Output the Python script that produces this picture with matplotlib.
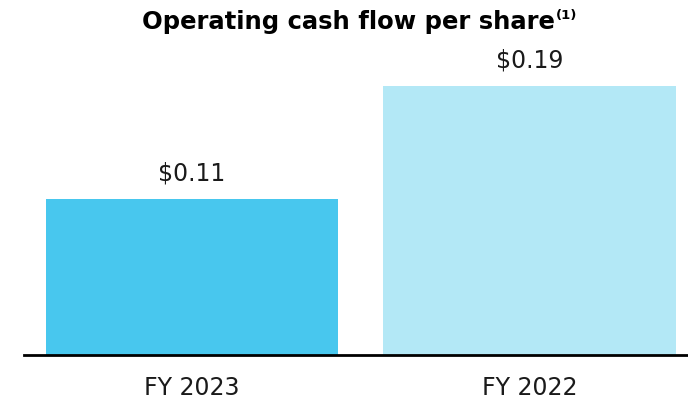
import matplotlib
matplotlib.use('Agg')
import matplotlib.pyplot as plt

# Data
categories = ['FY 2023', 'FY 2022']
values = [0.11, 0.19]
labels = ['$0.11', '$0.19']
colors = ['#48C7EE', '#B3E8F6']

plt.rcParams['font.family'] = ['DejaVu Sans']
text_color = '#1a1a1a'

fig = plt.figure(figsize=(6.88, 4.04), dpi=100)
ax = fig.add_axes([24 / 688, 49 / 404, 664 / 688, 315 / 404])

x = range(len(categories))
ax.bar(x, values, width=0.868, color=colors, zorder=2)
ax.set_xlim(-0.498, 1.47)
ax.set_ylim(0, 0.19 * 315 / 269)

for xi, v, lab in zip(x, values, labels):
    ax.annotate(lab, (xi, v), xytext=(0, 10), textcoords='offset points',
                ha='center', va='bottom', fontsize=17, color=text_color)

ax.set_xticks(list(x))
ax.set_xticklabels(categories, fontsize=17, color=text_color)
ax.tick_params(axis='x', length=0, pad=15)
ax.set_yticks([])
for s in ['top', 'right', 'left']:
    ax.spines[s].set_visible(False)
ax.spines['bottom'].set_linewidth(2)
ax.spines['bottom'].set_color('#000000')

# Title with superscript note marker
t = fig.text(348 / 688, 1 - 22 / 404, 'Operating cash flow per share', ha='center', va='center',
             fontsize=17.5, fontweight='bold', color='#000000')
fig.canvas.draw()
bb = t.get_window_extent()
fig.text((bb.x1 + 1) / 688, 1 - 16 / 404, '(1)', ha='left', va='center',
         fontsize=9.5, fontweight='bold', color='#000000')

fig.savefig('out.png', dpi=100)
